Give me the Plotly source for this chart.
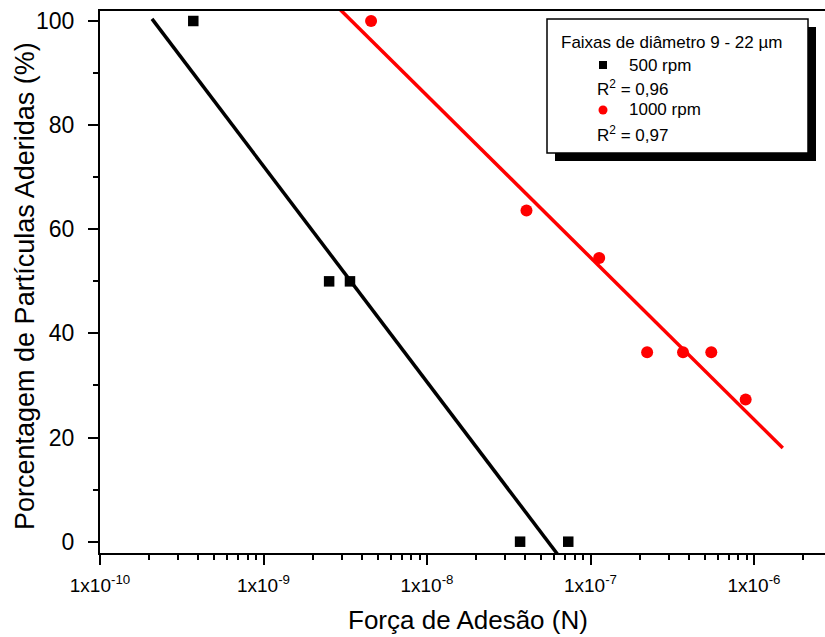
import plotly.graph_objects as go

# Adhesion force (N) vs. percentage of adhered particles, 9-22 µm diameter range
force_500 = [3.72e-10, 2.52e-9, 3.38e-9, 3.71e-8, 7.31e-8]
adhered_500 = [100, 50, 50, 0, 0]

force_1000 = [4.55e-9, 4.06e-8, 1.13e-7, 2.22e-7, 3.68e-7, 5.48e-7, 8.89e-7]
adhered_1000 = [100, 63.6, 54.5, 36.4, 36.4, 36.4, 27.3]

# Linear fits (y vs log10 F), given by their end points
fit_500_x = [2.08e-10, 6.46e-8]
fit_500_y = [100.4, -2.9]
fit_1000_x = [2.5e-9, 1.50e-6]
fit_1000_y = [104.4, 18.0]

r2_500 = "0,96"
r2_1000 = "0,97"

x_major = [1e-10, 1e-9, 1e-8, 1e-7, 1e-6]
x_major_text = ["1x10<sup>-10</sup>", "1x10<sup>-9</sup>", "1x10<sup>-8</sup>",
                "1x10<sup>-7</sup>", "1x10<sup>-6</sup>"]
x_minor = [m * d for d in [1e-10, 1e-9, 1e-8, 1e-7, 1e-6] for m in range(2, 10)]

FONT = "Liberation Sans, Arial, sans-serif"
W, H = 825, 637
ML, MR, MT, MB = 100, 0, 11, 84
PW, PH = W - ML - MR, H - MT - MB


def px(x):
    return (x - ML) / PW


def py(y):
    return (H - MB - y) / PH


fig = go.Figure()
fig.add_trace(go.Scatter(x=fit_500_x, y=fit_500_y, mode="lines",
                         line=dict(color="black", width=3.5), showlegend=False))
fig.add_trace(go.Scatter(x=fit_1000_x, y=fit_1000_y, mode="lines",
                         line=dict(color="#ff0000", width=3.5), showlegend=False))
fig.add_trace(go.Scatter(x=force_500, y=adhered_500, mode="markers",
                         marker=dict(symbol="square", size=10.5, color="black"),
                         showlegend=False, cliponaxis=False))
fig.add_trace(go.Scatter(x=force_1000, y=adhered_1000, mode="markers",
                         marker=dict(symbol="circle", size=12, color="#ff0000"),
                         showlegend=False, cliponaxis=False))

fig.update_xaxes(
    type="log", range=[-10, -10 + PW / 163.5],
    tickmode="array", tickvals=x_major, ticktext=x_major_text,
    ticks="outside", ticklen=10, tickwidth=2, tickcolor="black",
    minor=dict(tickmode="array", tickvals=x_minor, ticks="outside",
               ticklen=5, tickwidth=1.5, tickcolor="black"),
    showline=True, linecolor="black", linewidth=2, mirror=True,
    showgrid=False, zeroline=False, ticklabelstandoff=4,
    tickfont=dict(family=FONT, size=19, color="black"),
)
fig.update_yaxes(
    range=[-(H - MB - 541.7) / 5.207, 100 + (21 - MT) / 5.207],
    tickmode="array", tickvals=[0, 20, 40, 60, 80, 100],
    ticks="outside", ticklen=10, tickwidth=2, tickcolor="black",
    minor=dict(tickmode="array", tickvals=[10, 30, 50, 70, 90], ticks="outside",
               ticklen=5, tickwidth=1.5, tickcolor="black"),
    showline=True, linecolor="black", linewidth=2,
    showgrid=False, zeroline=False, ticklabelstandoff=9,
    tickfont=dict(family=FONT, size=23, color="black"),
)

# Legend box with drop shadow
shapes = [
    dict(type="rect", xref="paper", yref="paper", x0=px(555), x1=px(816),
         y0=py(161), y1=py(27), fillcolor="black", line=dict(width=0)),
    dict(type="rect", xref="paper", yref="paper", x0=px(547), x1=px(808),
         y0=py(153), y1=py(19), fillcolor="white", line=dict(color="black", width=1.5)),
    dict(type="rect", xref="paper", yref="paper", x0=px(599), x1=px(607),
         y0=py(69), y1=py(61), fillcolor="black", line=dict(width=0)),
    dict(type="circle", xref="paper", yref="paper", x0=px(598.5), x1=px(607.5),
         y0=py(114.5), y1=py(105.5), fillcolor="#ff0000", line=dict(width=0)),
]

legend_font = dict(family=FONT, size=17, color="black")
annotations = [
    dict(text="Faixas de diâmetro 9 - 22 µm", x=px(559), y=py(43)),
    dict(text="500 rpm", x=px(627), y=py(65)),
    dict(text="R<sup>2</sup> = " + r2_500, x=px(595), y=py(88)),
    dict(text="1000 rpm", x=px(627), y=py(110)),
    dict(text="R<sup>2</sup> = " + r2_1000, x=px(595), y=py(134)),
]
annotations = [dict(a, xref="paper", yref="paper", xanchor="left", yanchor="middle",
                    showarrow=False, font=legend_font) for a in annotations]

# Axis titles
annotations.append(dict(text="Força de Adesão (N)", xref="paper", yref="paper",
                        x=px(468), y=py(620), xanchor="center", yanchor="middle",
                        showarrow=False, font=dict(family=FONT, size=26, color="black")))
annotations.append(dict(text="Porcentagem de Partículas Aderidas (%)", xref="paper",
                        yref="paper", x=px(25), y=py(286), xanchor="center",
                        yanchor="middle", textangle=-90, showarrow=False,
                        font=dict(family=FONT, size=27, color="black")))

fig.update_layout(
    width=W, height=H,
    margin=dict(l=ML, r=MR, t=MT, b=MB, pad=0),
    paper_bgcolor="white", plot_bgcolor="white",
    shapes=shapes, annotations=annotations,
    showlegend=False,
)

fig.write_html("out.html")
